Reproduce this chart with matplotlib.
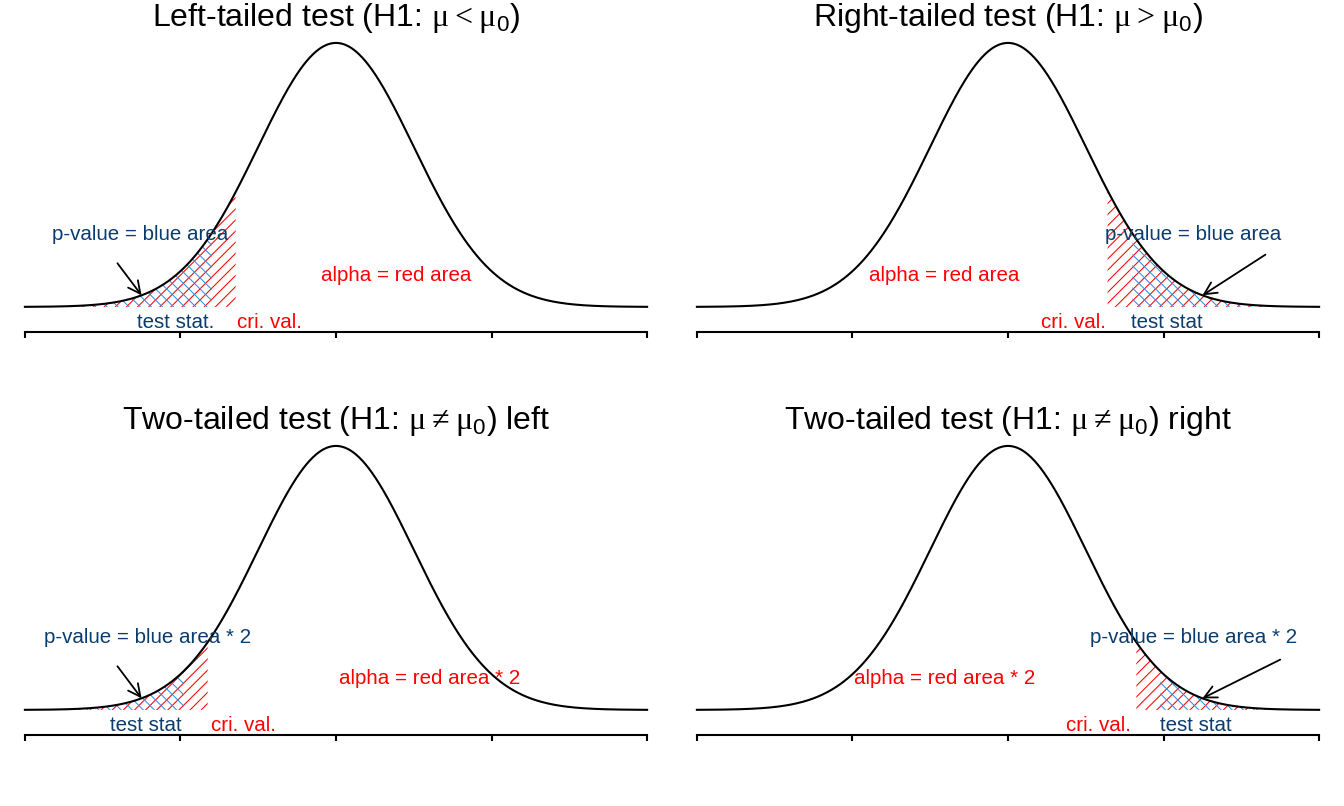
import numpy as np
import matplotlib
matplotlib.use("Agg")
import matplotlib.pyplot as plt

plt.rcParams['font.family'] = ['Liberation Sans', 'DejaVu Sans']
plt.rcParams['mathtext.fontset'] = 'custom'
plt.rcParams['mathtext.rm'] = 'Liberation Serif'
plt.rcParams['mathtext.sf'] = 'Liberation Sans'
plt.rcParams['hatch.linewidth'] = 0.75

# panel settings
titles = [r"Left-tailed test (H1: $\mathrm{\mu < \mu}_\mathsf{0}$)",
          r"Right-tailed test (H1: $\mathrm{\mu > \mu}_\mathsf{0}$)",
          r"Two-tailed test (H1: $\mathrm{\mu \neq \mu}_\mathsf{0}$) left",
          r"Two-tailed test (H1: $\mathrm{\mu \neq \mu}_\mathsf{0}$) right"]
sides = ["left", "right", "left", "right"]
crit_vals = [-1.28, 1.28, -1.645, 1.645]
test_stats = [-1.6, 1.6, -1.96, 1.96]
pval_text = ["p-value = blue area", "p-value = blue area",
             "p-value = blue area * 2", "p-value = blue area * 2"]
alpha_text = ["alpha = red area", "alpha = red area",
              "alpha = red area * 2", "alpha = red area * 2"]
test_text = ["test stat.", "test stat", "test stat", "test stat"]
pval_xy = [(-2.52, 0.109), (2.38, 0.109), (-2.42, 0.109), (2.38, 0.109)]
alpha_xy = [(0.78, 0.048), (-0.82, 0.048), (1.2, 0.048), (-0.82, 0.048)]
arrow_from = [(-2.81, 0.066), (3.31, 0.079), (-2.81, 0.066), (3.5, 0.076)]
arrow_to_x = [-2.5, 2.5, -2.5, 2.5]
crit_lab_x = [-1.27, 1.26, -1.61, 1.58]
test_lab_x = [-1.57, 1.58, -1.98, 1.96]

navy = "#0b3c6e"
blue = "#2f8fe8"


def dnorm(v):
    return np.exp(-v ** 2 / 2) / np.sqrt(2 * np.pi)


x = np.linspace(-4, 4, 801)
y = dnorm(x)

W, H = 1344, 806
fig = plt.figure(figsize=(W / 100, H / 100), dpi=100)
# axes rectangles in pixels: (left, bottom_px_from_top)
boxes = [(0, 340), (672, 340), (0, 743), (672, 743)]

for i in range(4):
    l, b = boxes[i]
    ax = fig.add_axes([l / W, (H - b) / H, 672 / W, 311 / H])
    ax.set_xlim(-4.32, 4.32)
    ax.set_ylim(-0.05, 0.42)
    for s in ["top", "right", "left"]:
        ax.spines[s].set_visible(False)
    ax.spines["bottom"].set_position(("data", -0.038))
    ax.spines["bottom"].set_bounds(-4, 4)
    ax.spines["bottom"].set_linewidth(1.5)
    ax.set_xticks([-4, -2, 0, 2, 4])
    ax.set_xticklabels([])
    ax.tick_params(axis="x", length=4.5, width=1.5)
    ax.set_yticks([])
    ax.patch.set_visible(False)

    cv, ts = crit_vals[i], test_stats[i]
    if sides[i] == "left":
        red_m = x <= cv
        blue_m = x <= ts
        ha_c, ha_t = "left", "right"
    else:
        red_m = x >= cv
        blue_m = x >= ts
        ha_c, ha_t = "right", "left"

    ax.fill_between(x[red_m], 0, y[red_m], facecolor="none", edgecolor="red",
                    hatch="///", linewidth=0)
    ax.fill_between(x[blue_m], 0, y[blue_m], facecolor="none", edgecolor=blue,
                    hatch="\\\\\\", linewidth=0)
    ax.plot(x, y, color="black", lw=1.5)

    ax.text(0, 0.437, titles[i], ha="center", va="center", fontsize=23,
            clip_on=False)
    ax.text(*pval_xy[i], pval_text[i], color=navy, ha="center", va="center",
            fontsize=14.8)
    ax.text(*alpha_xy[i], alpha_text[i], color="red", ha="center", va="center",
            fontsize=14.8)
    ax.text(crit_lab_x[i], -0.023, "cri. val.", color="red", ha=ha_c,
            va="center", fontsize=14.8)
    ax.text(test_lab_x[i], -0.023, test_text[i], color=navy, ha=ha_t,
            va="center", fontsize=14.8)
    tx = arrow_to_x[i]
    ax.annotate("", xy=(tx, dnorm(tx)), xytext=arrow_from[i],
                arrowprops=dict(arrowstyle="->", color="black", lw=1.3,
                                mutation_scale=22, shrinkA=0, shrinkB=0))

fig.savefig("out.png", dpi=100)
